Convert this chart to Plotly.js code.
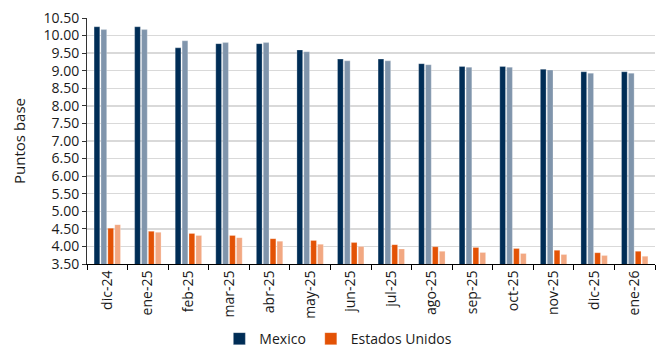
<!DOCTYPE html>
<html>
<head>
<meta charset="utf-8">
<script src="https://cdn.plot.ly/plotly-3.0.1.min.js"></script>
<style>html,body{margin:0;padding:0;background:#fff;}#chart{width:657px;height:349px;}</style>
</head>
<body>
<div id="chart"></div>
<script>
const categories = ["dic-24","ene-25","feb-25","mar-25","abr-25","may-25","jun-25","jul-25","ago-25","sep-25","oct-25","nov-25","dic-25","ene-26"];
const mexico      = [10.25,10.25,9.65,9.77,9.77,9.59,9.33,9.33,9.20,9.12,9.12,9.04,8.97,8.97];
const mexicoB     = [10.17,10.17,9.85,9.80,9.80,9.54,9.28,9.28,9.17,9.10,9.10,9.02,8.93,8.93];
const estadosUnidos  = [4.52,4.43,4.37,4.31,4.22,4.17,4.11,4.05,3.99,3.97,3.94,3.89,3.82,3.86];
const estadosUnidosB = [4.62,4.40,4.31,4.25,4.15,4.06,4.00,3.93,3.86,3.83,3.80,3.77,3.74,3.72];
const yTicks = [3.5,4,4.5,5,5.5,6,6.5,7,7.5,8,8.5,9,9.5,10,10.5];

const font = "Open Sans, Liberation Sans, sans-serif";
const txt = "#1a1a1a";
function bar(name, y, color, show){
  return {type:"bar", name:name, x:categories, y:y, showlegend:show,
    marker:{color:color, line:{color:"rgba(255,255,255,0.5)", width:0.5}},
    hoverinfo:"y"};
}
const data = [
  bar("Mexico", mexico, "#002D56", true),
  bar("Mexico (2)", mexicoB, "#8095AC", false),
  bar("Estados Unidos", estadosUnidos, "#E35205", true),
  bar("Estados Unidos (2)", estadosUnidosB, "#F2A882", false)
];
const layout = {
  width:657, height:349,
  margin:{l:87, r:2, t:18, b:85, autoexpand:false},
  paper_bgcolor:"#fff", plot_bgcolor:"#fff",
  barmode:"group", bargap:0.32, bargroupgap:0.17,
  font:{family:font, size:14, color:txt},
  xaxis:{type:"category", tickangle:-90, ticks:"outside", ticklen:5, tickcolor:"#000",
    tickson:"boundaries", showline:true, linecolor:"#000", linewidth:1,
    showgrid:false, tickfont:{family:font, size:14, color:txt}, automargin:false},
  yaxis:{range:[3.5,10.5], tickvals:yTicks, tickformat:".2f", ticks:"outside", ticklen:4,
    tickcolor:"#333", showline:true, linecolor:"#333", linewidth:1,
    gridcolor:"#D9D9D9", gridwidth:1.5, zeroline:false,
    title:{text:"Puntos base", font:{family:font, size:15, color:txt}, standoff:14},
    tickfont:{family:font, size:14, color:txt}, automargin:false},
  legend:{orientation:"h", x:0.515, xanchor:"center", xref:"container", y:-0.305, yref:"paper", yanchor:"middle",
    font:{family:font, size:14, color:txt}, itemwidth:30, traceorder:"normal", tracegroupgap:0},
  showlegend:true
};
Plotly.newPlot("chart", data, layout, {displayModeBar:false, staticPlot:true});
</script>
</body>
</html>
